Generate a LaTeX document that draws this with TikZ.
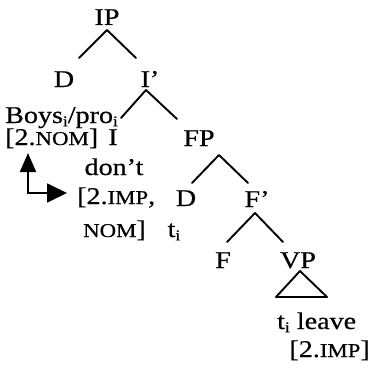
\documentclass[tikz,border=0pt]{standalone}
\usepackage{fontspec}
\setmainfont[FakeStretch=1.17,FakeBold=0.5]{Liberation Serif}
\usetikzlibrary{arrows.meta}
% faked small capitals and upright subscript index
\newcommand{\smc}[1]{{\fontsize{19.5}{19.5}\selectfont #1}}
\newcommand{\idx}{\raisebox{-0.3ex}{\fontsize{15}{15}\selectfont i}}
\begin{document}
\begin{tikzpicture}[x=1pt,y=-1pt,
  lbl/.style={inner sep=0pt,anchor=base,font=\fontsize{24}{24}\selectfont},
  branch/.style={line width=1.9pt,line cap=round,line join=round},
  link/.style={line width=1.8pt,{Triangle[length=19pt,width=16pt]}-{Triangle[length=20pt,width=19pt]}}]
\useasboundingbox (0,0) rectangle (371,369);

% labels
\node[lbl] (ip)    at (107,25)  {IP};
\node[lbl] (d1)    at (64,87)   {D};
\node[lbl] (ibar)  at (150,87)  {I’};
\node[lbl,anchor=base west] (boys) at (5,123) {Boys\idx/pro\idx};
\node[lbl,anchor=base west] (nom)  at (5,145) {[2.\smc{NOM}]};
\node[lbl] (i)     at (113,145) {I};
\node[lbl] (fp)    at (199,146) {FP};
\node[lbl] (dont)  at (114,175) {don’t};
\node[lbl,anchor=base west] (imp)  at (77,204) {[2.\smc{IMP},};
\node[lbl] (d2)    at (186,206) {D};
\node[lbl] (fbar)  at (257,207) {F’};
\node[lbl,anchor=base west] (nom2) at (83,237) {\smc{NOM}]};
\node[lbl] (tr)    at (174,237) {t\idx};
\node[lbl] (f)     at (223,268) {F};
\node[lbl] (vp)    at (298,268) {VP};
\node[lbl,anchor=base west] (leave) at (277,329) {t\idx{} leave};
\node[lbl,anchor=base east] (imp2)  at (370,357) {[2.\smc{IMP}]};

% branch points
\coordinate (ipT) at (107,30);  \coordinate (ipL) at (79,58);   \coordinate (ipR) at (136,58);
\coordinate (ibT) at (146,90);  \coordinate (ibL) at (121,118); \coordinate (ibR) at (177,119);
\coordinate (fpT) at (219,155); \coordinate (fpL) at (192,183); \coordinate (fpR) at (248,183);
\coordinate (fbT) at (255,213); \coordinate (fbL) at (227,242); \coordinate (fbR) at (283,242);
\coordinate (vpT) at (300,271); \coordinate (vpL) at (276,297); \coordinate (vpR) at (327,297);

\draw[branch] (ipL) -- (ipT) -- (ipR);
\draw[branch] (ibL) -- (ibT) -- (ibR);
\draw[branch] (fpL) -- (fpT) -- (fpR);
\draw[branch] (fbL) -- (fbT) -- (fbR);
\draw[branch] (vpT) -- (vpL) -- (vpR) -- cycle;

% feature-checking arrow
\coordinate (nomTip) at (28,153);
\coordinate (impTip) at (67,193);
\draw[link] (nomTip) |- (impTip);
\end{tikzpicture}
\end{document}
